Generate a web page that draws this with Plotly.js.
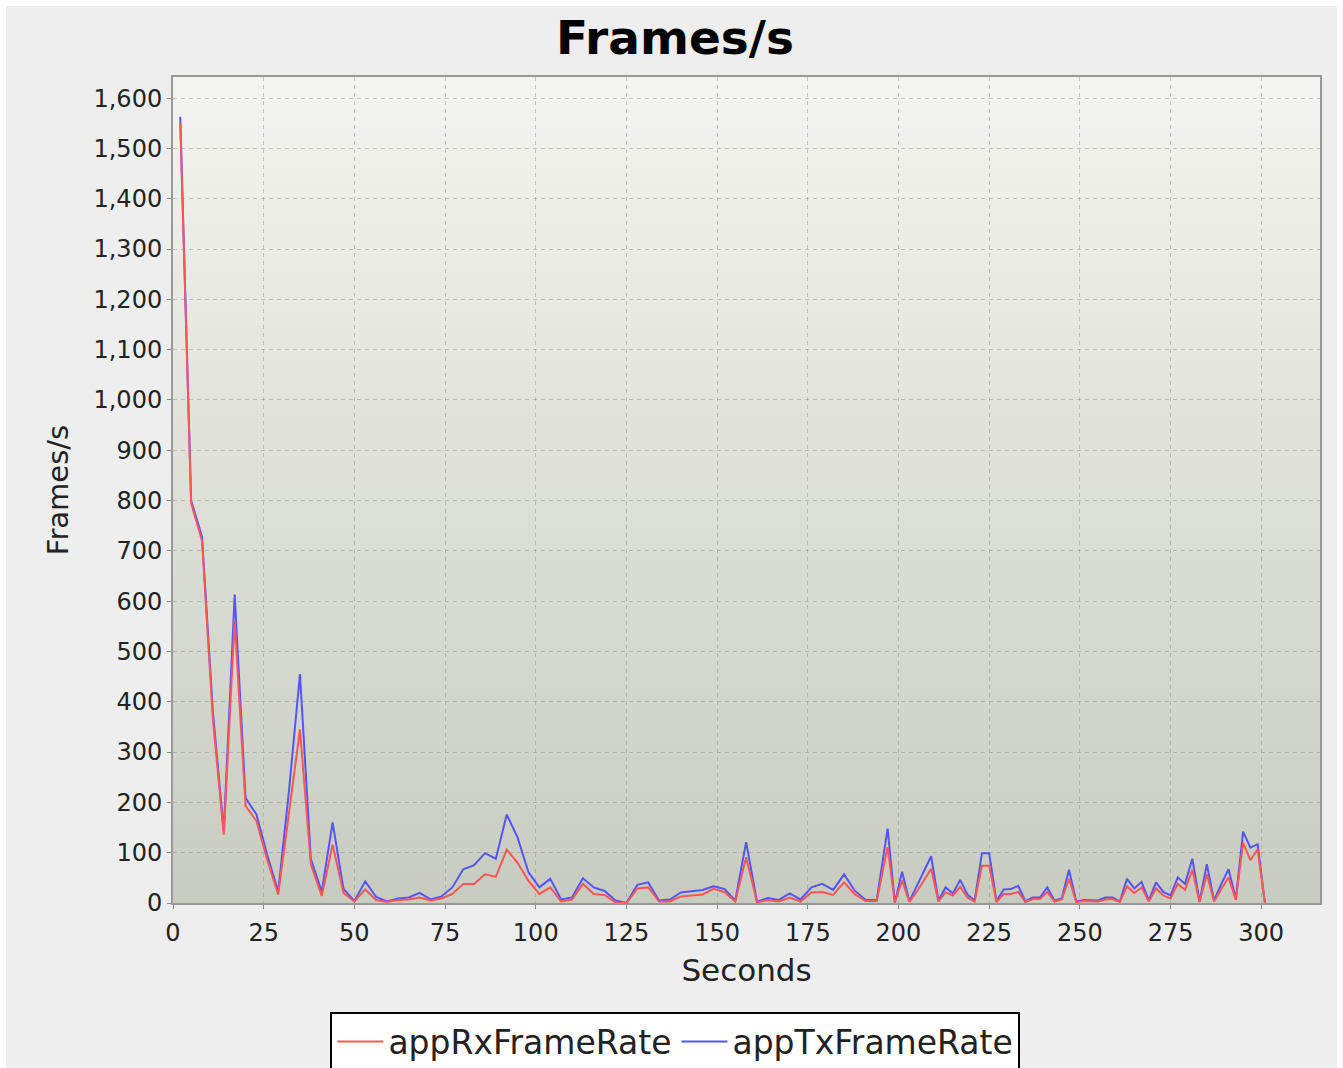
<!DOCTYPE html>
<html><head><meta charset="utf-8">
<script src="https://cdn.plot.ly/plotly-3.0.1.min.js"></script>
<style>
html,body{margin:0;padding:0;background:#ffffff;}
#frame{position:absolute;left:6px;top:6px;width:1331px;height:1062px;background:#eeeeee;overflow:hidden;}
#bg{position:absolute;left:167px;top:71px;width:1147px;height:826px;background:linear-gradient(to bottom,#f3f4ef,#c8ccc0);}
#chart{position:absolute;left:0;top:0;width:1331px;height:1062px;}
</style></head><body>
<div id="frame"><div id="bg"></div><div id="chart"></div></div>
<script>
const seconds = [
  2,5,8,11,14,17,20,23,26,29,
  32,35,38,41,44,47,50,53,56,59,
  62,65,68,71,74,77,80,83,86,89,
  92,95,98,101,104,107,110,113,116,119,
  122,125,128,131,134,137,140,143,146,149,
  152,155,158,161,164,167,170,173,176,179,
  182,185,188,191,194,197,
  199,201,203,205,207,209,211,213,215,217,
  219,221,223,225,227,229,231,233,235,237,
  239,241,243,245,247,249,251,253,255,257,
  259,261,263,265,267,269,271,273,275,277,
  279,281,283,285,287,289,291,293,295,297,
  299,301
];
const appRxFrameRate = [
  1550,795,720,365,136,560,193,163,85,17,
  180,345,77,14,116,20,3,27,6,2,
  6,7,11,5,9,18,38,38,57,52,
  106,80,44,18,31,3,7,38,18,16,
  1,0,29,31,3,3,13,15,17,28,
  22,3,91,1,6,3,11,3,21,22,
  16,41,17,4,4,111,
  1,45,2,22,44,68,3,21,15,32,
  11,3,74,74,2,18,18,22,2,8,
  8,22,3,7,48,2,4,3,3,7,
  8,2,33,20,31,3,29,15,9,38,
  26,66,2,57,3,28,51,6,120,85,
  106,1
];
const appTxFrameRate = [
  1563,800,728,380,143,613,209,176,95,23,
  225,455,88,22,160,28,4,43,12,3,
  9,11,20,7,13,31,67,75,99,88,
  176,130,61,31,48,7,11,49,31,24,
  5,0,36,41,5,7,21,24,26,33,
  28,5,121,2,10,6,19,7,31,38,
  26,57,24,6,6,148,
  1,62,3,33,62,93,5,31,19,46,
  17,5,99,99,4,27,28,34,3,11,
  11,31,5,9,66,3,6,5,5,11,
  11,3,48,29,42,5,41,22,15,51,
  38,88,3,77,5,38,67,8,142,110,
  117,1
];
const yTicks = [0,100,200,300,400,500,600,700,800,900,1000,1100,1200,1300,1400,1500,1600];
const xTicks = [0,25,50,75,100,125,150,175,200,225,250,275,300];

const FONT = 'DejaVu Sans, Verdana, sans-serif';

const traces = [
  {x: seconds, y: appTxFrameRate, name: 'appTxFrameRate', type: 'scatter', mode: 'lines',
   line: {color: '#5555ff', width: 2}, legendrank: 2},
  {x: seconds, y: appRxFrameRate, name: 'appRxFrameRate', type: 'scatter', mode: 'lines',
   line: {color: '#ff5555', width: 2}, legendrank: 1}
];

const axisCommon = {
  showline: true, linecolor: '#999999', linewidth: 2, mirror: true,
  ticks: 'outside', ticklen: 4, tickcolor: '#888888', tickwidth: 1,
  showgrid: true, gridcolor: 'rgba(140,140,140,0.45)', gridwidth: 1, griddash: '4px,4px',
  zeroline: false, automargin: false,
  tickfont: {family: FONT, size: 24, color: '#222222'}
};

const layout = {
  width: 1331, height: 1062,
  paper_bgcolor: 'rgba(0,0,0,0)', plot_bgcolor: 'rgba(0,0,0,0)',
  margin: {l: 167, r: 17, t: 71, b: 165, autoexpand: false},
  font: {family: FONT, color: '#222222'},
  title: {text: 'Frames/s', font: {family: FONT, size: 47, weight: 'bold', color: '#000000'},
          x: 0.5026, xref: 'container', xanchor: 'center', y: 0.9699, yref: 'container', yanchor: 'middle'},
  xaxis: Object.assign({}, axisCommon, {
    range: [0, 316.2], tickvals: xTicks, ticklabelstandoff: 3,
    title: {text: 'Seconds', font: {family: FONT, size: 31, color: '#222222'}, standoff: 14}
  }),
  yaxis: Object.assign({}, axisCommon, {
    range: [0, 1642], tickvals: yTicks, tickformat: ',d',
    title: {text: 'Frames/s', font: {family: FONT, size: 29, color: '#222222'}, standoff: 16}
  }),
  showlegend: true,
  legend: {orientation: 'h', x: 0.438, xanchor: 'center', y: -0.1315, yanchor: 'top',
           bgcolor: '#ffffff', bordercolor: '#000000', borderwidth: 2,
           font: {family: FONT, size: 33, color: '#222222'}, itemwidth: 46, traceorder: 'normal'}
};

Plotly.newPlot('chart', traces, layout, {displayModeBar: false, staticPlot: true});
</script>
</body></html>
